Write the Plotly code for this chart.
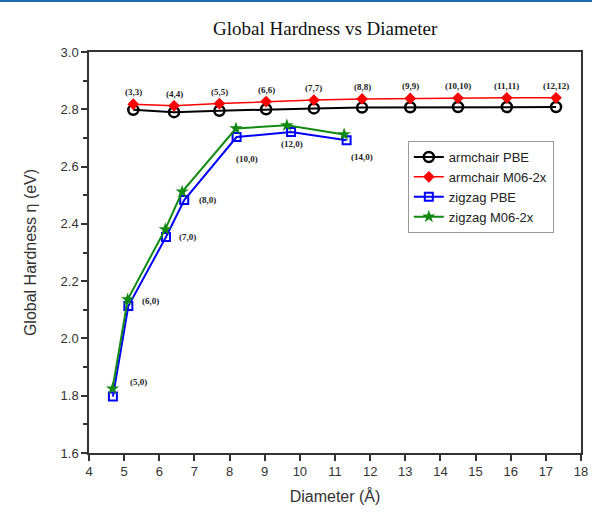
import plotly.graph_objects as go

# Armchair nanotubes
arm_labels = ["(3,3)", "(4,4)", "(5,5)", "(6,6)", "(7,7)", "(8,8)", "(9,9)", "(10,10)", "(11,11)", "(12,12)"]
arm_diam = [5.26, 6.42, 7.71, 9.04, 10.40, 11.77, 13.14, 14.50, 15.89, 17.29]
arm_pbe = [2.798, 2.790, 2.795, 2.800, 2.803, 2.806, 2.807, 2.808, 2.808, 2.808]
arm_m06 = [2.818, 2.812, 2.820, 2.827, 2.832, 2.836, 2.838, 2.839, 2.840, 2.840]

# Zigzag nanotubes
zig_labels = ["(5,0)", "(6,0)", "(7,0)", "(8,0)", "(10,0)", "(12,0)", "(14,0)"]
zig_diam_pbe = [4.68, 5.12, 6.19, 6.71, 8.20, 9.75, 11.33]
zig_diam_m06 = [4.67, 5.10, 6.17, 6.65, 8.18, 9.63, 11.26]
zig_pbe = [1.797, 2.113, 2.354, 2.483, 2.703, 2.721, 2.692]
zig_m06 = [1.825, 2.136, 2.381, 2.512, 2.733, 2.744, 2.712]

# label pixel offsets relative to zigzag PBE points
zig_label_dx = [26, 22, 22, 23, 10, 1, 15]
zig_label_dy = [15, 5, 0, 0, -22, -12, -17]

fig = go.Figure()
fig.add_trace(go.Scatter(x=arm_diam, y=arm_pbe, name="armchair PBE", mode="lines+markers",
                         line=dict(color="black", width=2),
                         marker=dict(symbol="circle-open", size=10, color="black", line=dict(width=2.5))))
fig.add_trace(go.Scatter(x=arm_diam, y=arm_m06, name="armchair M06-2x", mode="lines+markers",
                         line=dict(color="#ff0000", width=1.5),
                         marker=dict(symbol="diamond", size=9, color="#ff0000")))
fig.add_trace(go.Scatter(x=zig_diam_pbe, y=zig_pbe, name="zigzag PBE", mode="lines+markers",
                         line=dict(color="#0000ff", width=2),
                         marker=dict(symbol="square-open", size=8, color="#0000ff", line=dict(width=2))))
fig.add_trace(go.Scatter(x=zig_diam_m06, y=zig_m06, name="zigzag M06-2x", mode="lines+markers",
                         line=dict(color="#108a10", width=2),
                         marker=dict(symbol="star", size=10, color="#108a10")))

lab_font = dict(family="Liberation Serif, Times New Roman, serif", size=9, color="#222")
for lx, ly, t in zip(arm_diam, arm_m06, arm_labels):
    fig.add_annotation(x=lx, y=ly, text="<b>%s</b>" % t, showarrow=False, yshift=12, font=lab_font)
for lx, ly, t, dx, dy in zip(zig_diam_pbe, zig_pbe, zig_labels, zig_label_dx, zig_label_dy):
    fig.add_annotation(x=lx, y=ly, text="<b>%s</b>" % t, showarrow=False, xshift=dx, yshift=dy, font=lab_font)

axis_common = dict(showline=True, linecolor="#333", linewidth=1.5, mirror=True,
                   ticks="outside", ticklen=6, tickwidth=1.5, tickcolor="#333",
                   showgrid=False, zeroline=False, automargin=False,
                   tickfont=dict(family="Arial, Liberation Sans, sans-serif", size=13, color="#333"))

fig.update_xaxes(range=[4, 18], dtick=1, tick0=4,
                 title=dict(text="Diameter (Å)", font=dict(family="Arial, Liberation Sans, sans-serif", size=16, color="#333"), standoff=12),
                 **axis_common)
fig.update_yaxes(range=[1.6, 3.0], dtick=0.2, tick0=1.6, tickformat=".1f",
                 minor=dict(dtick=0.1, ticks="outside", ticklen=4, tickcolor="#333"),
                 title=dict(text="Global Hardness η (eV)", font=dict(family="Arial, Liberation Sans, sans-serif", size=16, color="#333"), standoff=20),
                 **axis_common)

fig.update_layout(
    width=592, height=512,
    margin=dict(l=89, r=11, t=52, b=59),
    paper_bgcolor="white", plot_bgcolor="white",
    title=dict(text="Global Hardness vs Diameter", x=0.48, xref="paper", xanchor="center",
               y=0.945, yref="container", yanchor="middle",
               font=dict(family="Liberation Serif, Times New Roman, serif", size=19, color="#111")),
    legend=dict(x=0.648, y=0.778, xanchor="left", yanchor="top", bordercolor="#999", borderwidth=1,
                bgcolor="white", font=dict(family="Arial, Liberation Sans, sans-serif", size=13, color="#222"),
                tracegroupgap=0, itemwidth=30),
    showlegend=True,
)

fig.write_html("out.html", config={"displayModeBar": False})

# remove default page margin and add the thin blue rule along the top of the page
with open("out.html", "r", encoding="utf-8") as f:
    html = f.read()
html = html.replace(
    "<body>",
    '<body style="margin:0;padding:0;">'
    '<div style="position:fixed;top:0;left:0;width:100%;height:2px;background:#1a6db5;z-index:10;"></div>',
    1,
)
with open("out.html", "w", encoding="utf-8") as f:
    f.write(html)
